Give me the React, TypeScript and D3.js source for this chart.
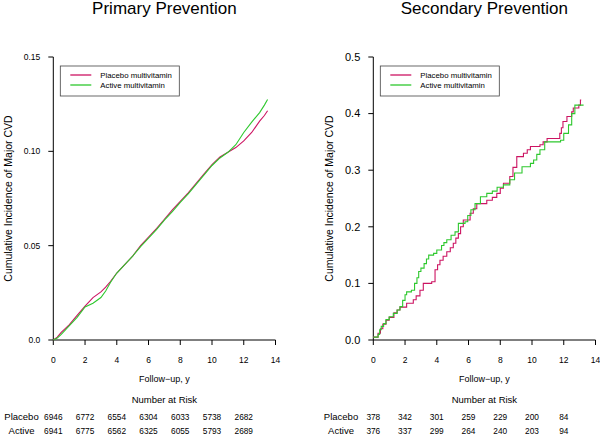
import React from "react";
import * as d3 from "d3";

// ---------- Data ----------
const xTicks = [0, 2, 4, 6, 8, 10, 12, 14];
const riskTimes = [0, 2, 4, 6, 8, 10, 12];

const primaryYTicks = [0, 0.05, 0.1, 0.15];
const primaryYLabels = ["0.0", "0.05", "0.10", "0.15"];
const secondaryYTicks = [0, 0.1, 0.2, 0.3, 0.4, 0.5];
const secondaryYLabels = ["0.0", "0.1", "0.2", "0.3", "0.4", "0.5"];

const primaryPlacebo: [number, number][] = [
  [0, 0], [0.25, 0.0015], [0.5, 0.004], [1.0, 0.008], [1.5, 0.013], [2.0, 0.018],
  [2.5, 0.0225], [3.0, 0.0255], [3.3, 0.028], [3.6, 0.031], [4.0, 0.0355], [4.5, 0.0400],
  [5.0, 0.0445], [5.5, 0.05], [6.0, 0.0545], [6.5, 0.059], [7.0, 0.064], [7.5, 0.069],
  [8.0, 0.0735], [8.5, 0.078], [9.0, 0.083], [9.5, 0.088], [10.0, 0.093], [10.5, 0.097],
  [11.0, 0.0995], [11.5, 0.102], [12.0, 0.1055], [12.5, 0.11], [13.0, 0.116], [13.3, 0.119],
  [13.5, 0.1215],
];
const primaryActive: [number, number][] = [
  [0, 0], [0.25, 0.001], [0.5, 0.003], [1.0, 0.0075], [1.5, 0.012], [2.0, 0.0175],
  [2.5, 0.0195], [3.0, 0.0225], [3.3, 0.026], [3.6, 0.0305], [4.0, 0.0355], [4.5, 0.0400],
  [5.0, 0.0445], [5.5, 0.0495], [6.0, 0.054], [6.5, 0.0585], [7.0, 0.0635], [7.5, 0.068],
  [8.0, 0.073], [8.5, 0.0775], [9.0, 0.0825], [9.5, 0.0875], [10.0, 0.0925], [10.5, 0.0965],
  [11.0, 0.0995], [11.5, 0.1035], [12.0, 0.11], [12.5, 0.1155], [13.0, 0.1205], [13.3, 0.1245],
  [13.5, 0.1275],
];

const secondaryPlacebo: [number, number][] = [
  [0, 0.005], [0.3, 0.012], [0.45, 0.02], [0.6, 0.028], [0.8, 0.035], [1.0, 0.04],
  [1.3, 0.048], [1.5, 0.053], [1.68, 0.058], [2.1, 0.065], [2.52, 0.071], [2.7, 0.078],
  [2.94, 0.088], [3.15, 0.1], [3.68, 0.103], [3.89, 0.124], [4.05, 0.133], [4.2, 0.141],
  [4.4, 0.148], [4.63, 0.156], [4.85, 0.163], [5.04, 0.171], [5.2, 0.18], [5.36, 0.188],
  [5.5, 0.2], [5.67, 0.212], [6.1, 0.224], [6.3, 0.232], [6.52, 0.241], [7.15, 0.247],
  [7.5, 0.252], [7.78, 0.259], [8.0, 0.268], [8.2, 0.277], [8.6, 0.289], [8.8, 0.305],
  [9.04, 0.324], [9.46, 0.33], [9.7, 0.336], [9.9, 0.342], [10.5, 0.345], [10.7, 0.35],
  [10.95, 0.356], [11.75, 0.365], [11.85, 0.375], [11.95, 0.386], [12.2, 0.395],
  [12.5, 0.403], [12.6, 0.41], [12.95, 0.415], [13.05, 0.424], [13.1, 0.424],
];
const secondaryActive: [number, number][] = [
  [0, 0.005], [0.3, 0.01], [0.4, 0.018], [0.5, 0.024], [0.65, 0.029], [0.8, 0.036],
  [1.0, 0.041], [1.26, 0.047], [1.5, 0.053], [1.68, 0.059], [1.85, 0.07], [2.0, 0.08],
  [2.1, 0.085], [2.4, 0.088], [2.6, 0.1], [2.75, 0.11], [2.86, 0.121], [3.0, 0.127],
  [3.2, 0.135], [3.35, 0.143], [3.49, 0.15], [3.8, 0.153], [4.0, 0.159], [4.3, 0.167],
  [4.45, 0.172], [4.63, 0.177], [4.9, 0.185], [5.15, 0.191], [5.36, 0.206], [5.78, 0.209],
  [5.95, 0.22], [6.15, 0.23], [6.41, 0.241], [6.75, 0.253], [7.15, 0.259], [7.5, 0.263],
  [7.8, 0.27], [8.2, 0.274], [8.6, 0.283], [8.9, 0.295], [9.37, 0.306], [9.9, 0.312],
  [10.1, 0.318], [10.3, 0.328], [10.5, 0.336], [10.8, 0.35], [11.8, 0.353], [12.0, 0.365],
  [12.3, 0.38], [12.5, 0.4], [12.7, 0.415], [13.25, 0.415],
];

const primaryRiskPlacebo = [6946, 6772, 6554, 6304, 6033, 5738, 2682];
const primaryRiskActive = [6941, 6775, 6562, 6325, 6055, 5793, 2689];
const secondaryRiskPlacebo = [378, 342, 301, 259, 229, 200, 84];
const secondaryRiskActive = [376, 337, 299, 264, 240, 203, 94];

const seriesNames = ["Placebo multivitamin", "Active multivitamin"];
const rowNames = ["Placebo", "Active"];

const PLACEBO_COLOR = "#cc1462";
const ACTIVE_COLOR = "#2ec82e";
const FONT = "Liberation Sans, Arial, sans-serif";

type PanelProps = {
  title: string;
  left: number;
  right: number;
  yMax: number;
  yTicks: number[];
  yLabels: string[];
  yTickSize: number;
  placebo: [number, number][];
  active: [number, number][];
  step: boolean;
  riskPlacebo: number[];
  riskActive: number[];
  rowLabelX: number;
  ylabelX: number;
};

function Panel(p: PanelProps) {
  const top = 57;
  const bottom = 340;
  const x = d3.scaleLinear().domain([0, 14]).range([p.left, p.right]);
  const y = d3.scaleLinear().domain([0, p.yMax]).range([bottom, top]);
  const line = d3
    .line<[number, number]>()
    .x((d) => x(d[0]))
    .y((d) => y(d[1]))
    .curve(p.step ? d3.curveStepAfter : d3.curveLinear);
  const cx = (p.left + p.right) / 2;
  const lx = p.left + 7;
  return (
    <g fontFamily={FONT}>
      <text x={cx} y={14} textAnchor="middle" fontSize={17} fill="#000">
        {p.title}
      </text>
      {/* y axis */}
      <line x1={p.left} x2={p.left} y1={y(0)} y2={y(p.yMax)} stroke="#000" strokeWidth={1} />
      {p.yTicks.map((t, i) => (
        <g key={"yt" + i}>
          <line x1={p.left - 5} x2={p.left} y1={y(t)} y2={y(t)} stroke="#000" />
          <text
            x={p.left - 13}
            y={y(t)}
            dy="0.35em"
            textAnchor="end"
            fontSize={p.yTickSize}
            fill="#000"
          >
            {p.yLabels[i]}
          </text>
        </g>
      ))}
      {/* x axis */}
      <line x1={x(0)} x2={x(14)} y1={bottom} y2={bottom} stroke="#000" />
      {xTicks.map((t) => (
        <g key={"xt" + t}>
          <line x1={x(t)} x2={x(t)} y1={bottom} y2={bottom + 5} stroke="#000" />
          <text x={x(t)} y={360} dy="0.35em" textAnchor="middle" fontSize={8.5} fill="#000">
            {t}
          </text>
        </g>
      ))}
      <text x={cx} y={379} dy="0.35em" textAnchor="middle" fontSize={9} fill="#000">
        Follow−up, y
      </text>
      <text
        transform={`translate(${p.ylabelX},${(top + bottom) / 2}) rotate(-90)`}
        textAnchor="middle"
        dy="0.35em"
        fontSize={10.5}
        fill="#000"
      >
        Cumulative Incidence of Major CVD
      </text>
      {/* curves */}
      <path d={line(p.placebo) || ""} fill="none" stroke={PLACEBO_COLOR} strokeWidth={1.1} />
      <path d={line(p.active) || ""} fill="none" stroke={ACTIVE_COLOR} strokeWidth={1.1} />
      {/* legend */}
      <rect x={lx} y={66} width={119} height={30} fill="#fff" stroke="#444" strokeWidth={0.8} />
      {[PLACEBO_COLOR, ACTIVE_COLOR].map((c, i) => (
        <g key={"lg" + i}>
          <line x1={lx + 10} x2={lx + 31} y1={75 + i * 10} y2={75 + i * 10} stroke={c} strokeWidth={1.3} />
          <text x={lx + 40} y={75 + i * 10} dy="0.35em" fontSize={7.8} fill="#000">
            {seriesNames[i]}
          </text>
        </g>
      ))}
      {/* number at risk */}
      <text x={cx} y={400} dy="0.35em" textAnchor="middle" fontSize={9.5} fill="#000">
        Number at Risk
      </text>
      {[p.riskPlacebo, p.riskActive].map((row, r) => (
        <g key={"row" + r}>
          <text x={p.rowLabelX} y={417 + r * 14} dy="0.35em" textAnchor="middle" fontSize={9.5} fill="#000">
            {rowNames[r]}
          </text>
          {row.map((v, i) => (
            <text
              key={i}
              x={x(riskTimes[i])}
              y={417 + r * 14}
              dy="0.35em"
              textAnchor="middle"
              fontSize={8.3}
              fill="#000"
            >
              {v}
            </text>
          ))}
        </g>
      ))}
    </g>
  );
}

export default function App() {
  return (
    <div style={{ position: "absolute", left: 0, top: 0 }}>
      <svg width={600} height={435} style={{ display: "block", background: "#fff" }}>
        <rect width={600} height={435} fill="#fff" />
        <Panel
          title="Primary Prevention"
          left={53.3}
          right={275.5}
          yMax={0.15}
          yTicks={primaryYTicks}
          yLabels={primaryYLabels}
          yTickSize={8.5}
          placebo={primaryPlacebo}
          active={primaryActive}
          step={false}
          riskPlacebo={primaryRiskPlacebo}
          riskActive={primaryRiskActive}
          rowLabelX={21.5}
          ylabelX={8}
        />
        <Panel
          title="Secondary Prevention"
          left={373.3}
          right={595.5}
          yMax={0.5}
          yTicks={secondaryYTicks}
          yLabels={secondaryYLabels}
          yTickSize={11}
          placebo={secondaryPlacebo}
          active={secondaryActive}
          step={true}
          riskPlacebo={secondaryRiskPlacebo}
          riskActive={secondaryRiskActive}
          rowLabelX={341}
          ylabelX={329}
        />
      </svg>
    </div>
  );
}
